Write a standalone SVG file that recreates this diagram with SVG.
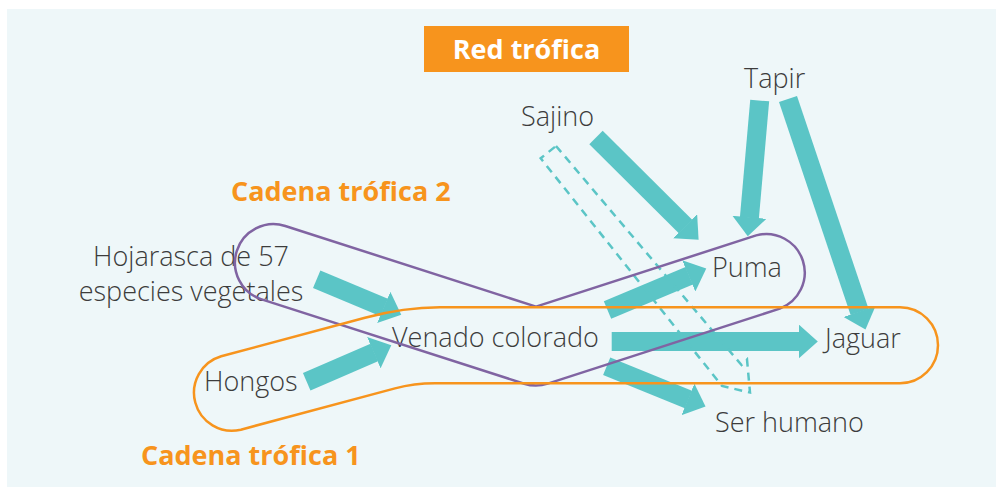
<svg xmlns="http://www.w3.org/2000/svg" width="996" height="487" viewBox="0 0 996 487">
<defs>
<style>
.lbl{font-family:"Open Sans","Liberation Sans",sans-serif;font-weight:300;font-size:27px;fill:#3c3c3c}
.bold{font-family:"Open Sans","Liberation Sans",sans-serif;font-weight:700;font-size:27px}
.arr{stroke:#5bc5c6;stroke-width:19;fill:none;marker-end:url(#ah)}
.loop{fill:none;stroke-width:2.5;stroke-linejoin:round}
</style>
<marker id="ah" markerUnits="userSpaceOnUse" markerWidth="20" markerHeight="34" viewBox="0 0 20 34" refX="0.5" refY="17" orient="auto">
<path d="M0,0 L19,17 L0,34 Z" fill="#5bc5c6"/>
</marker>
</defs>
<rect x="7" y="9" width="989" height="478" fill="#eef7f9"/>
<g id="title">
<rect x="424" y="26" width="205" height="46" fill="#f7941d"/>
<text class="bold" x="526.5" y="59" text-anchor="middle" fill="#ffffff">Red trófica</text>
</g>
<g id="connectors">
<line class="arr" x1="611.7" y1="341.5" x2="799.3" y2="341.5"/>
<line class="arr" x1="596" y1="137.5" x2="685.5" y2="226.6"/>
<line class="arr" x1="759.7" y1="100.5" x2="749.4" y2="217.8"/>
<line class="arr" x1="788" y1="99" x2="859.6" y2="312"/>
<line class="arr" x1="316.7" y1="279.2" x2="384.2" y2="307.6"/>
<line class="arr" x1="306.7" y1="381.7" x2="374.3" y2="352.5"/>
<line class="arr" x1="607.5" y1="310" x2="689.2" y2="275.7"/>
<line class="arr" x1="606.7" y1="366.2" x2="688.4" y2="399.5"/>
<polygon points="556,146 741.5,365 747,359.5 750,392.5 722,386 540.7,158.3" fill="none" stroke="#5bc5c6" stroke-width="2.5" stroke-dasharray="8 6" stroke-linejoin="miter"/>
</g>
<g id="tapir"><text class="lbl" x="744" y="88">Tapir</text></g>
<g id="sajino"><text class="lbl" x="521" y="126">Sajino</text></g>
<g id="hojarasca"><text class="lbl" text-anchor="middle"><tspan x="191" y="266">Hojarasca de 57</tspan><tspan x="191" y="301">especies vegetales</tspan></text></g>
<g id="puma"><text class="lbl" x="712" y="277">Puma</text></g>
<g id="venado"><text class="lbl" x="392" y="347">Venado colorado</text></g>
<g id="jaguar"><text class="lbl" x="825" y="348">Jaguar</text></g>
<g id="hongos"><text class="lbl" x="204" y="391">Hongos</text></g>
<g id="ser-humano"><text class="lbl" x="715" y="432">Ser humano</text></g>
<g id="cadena2">
<path class="loop" stroke="#8064a2" d="M285.3,226 L536,306.6 L756.2,235.4 A38.5,38.5 0 0 1 779.8,308.6 L547.8,383.6 A38.5,38.5 0 0 1 524.2,383.7 L261.7,299.4 A38.5,38.5 0 0 1 285.3,226 Z"/>
<text class="bold" x="231" y="201" fill="#f7941d">Cadena trófica 2</text>
</g>
<g id="cadena1">
<path class="loop" stroke="#f7941d" d="M221.2,356.3 L365,317.8 Q404,307.3 440,307.3 L900,307.3 A38,38 0 0 1 900,383.3 L435,383.3 Q414,383.3 395,388.4 L240.8,429.7 A38,38 0 0 1 221.2,356.3 Z"/>
<text class="bold" x="141" y="465" fill="#f7941d">Cadena trófica 1</text>
</g>
</svg>
